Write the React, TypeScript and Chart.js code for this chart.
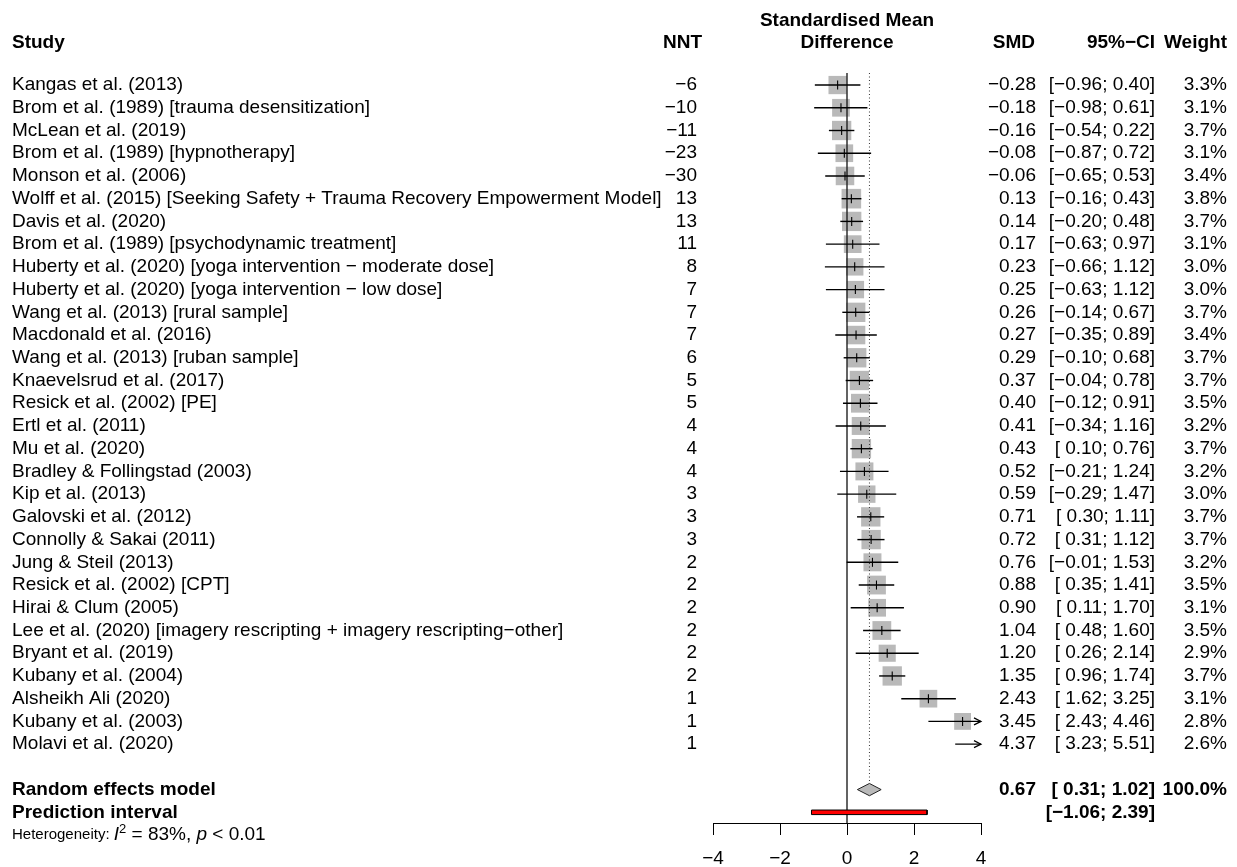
import React, { useEffect, useRef } from "react";
import { Chart, registerables } from "chart.js";

Chart.register(...registerables);

// ---------------- data ----------------
const studies = [
  "Kangas et al. (2013)",
  "Brom et al. (1989) [trauma desensitization]",
  "McLean et al. (2019)",
  "Brom et al. (1989) [hypnotherapy]",
  "Monson et al. (2006)",
  "Wolff et al. (2015) [Seeking Safety + Trauma Recovery Empowerment Model]",
  "Davis et al. (2020)",
  "Brom et al. (1989) [psychodynamic treatment]",
  "Huberty et al. (2020) [yoga intervention \u2212 moderate dose]",
  "Huberty et al. (2020) [yoga intervention \u2212 low dose]",
  "Wang et al. (2013) [rural sample]",
  "Macdonald et al. (2016)",
  "Wang et al. (2013) [ruban sample]",
  "Knaevelsrud et al. (2017)",
  "Resick et al. (2002) [PE]",
  "Ertl et al. (2011)",
  "Mu et al. (2020)",
  "Bradley & Follingstad (2003)",
  "Kip et al. (2013)",
  "Galovski et al. (2012)",
  "Connolly & Sakai (2011)",
  "Jung & Steil (2013)",
  "Resick et al. (2002) [CPT]",
  "Hirai & Clum (2005)",
  "Lee et al. (2020) [imagery rescripting + imagery rescripting\u2212other]",
  "Bryant et al. (2019)",
  "Kubany et al. (2004)",
  "Alsheikh Ali (2020)",
  "Kubany et al. (2003)",
  "Molavi et al. (2020)",
];

const nnt = [-6, -10, -11, -23, -30, 13, 13, 11, 8, 7, 7, 7, 6, 5, 5, 4, 4, 4, 3, 3, 3, 2, 2, 2, 2, 2, 2, 1, 1, 1];

const smd = [
  -0.28, -0.18, -0.16, -0.08, -0.06, 0.13, 0.14, 0.17, 0.23, 0.25, 0.26, 0.27, 0.29, 0.37, 0.4,
  0.41, 0.43, 0.52, 0.59, 0.71, 0.72, 0.76, 0.88, 0.9, 1.04, 1.2, 1.35, 2.43, 3.45, 4.37,
];

const ciLower = [
  -0.96, -0.98, -0.54, -0.87, -0.65, -0.16, -0.2, -0.63, -0.66, -0.63, -0.14, -0.35, -0.1, -0.04, -0.12,
  -0.34, 0.1, -0.21, -0.29, 0.3, 0.31, -0.01, 0.35, 0.11, 0.48, 0.26, 0.96, 1.62, 2.43, 3.23,
];

const ciUpper = [
  0.4, 0.61, 0.22, 0.72, 0.53, 0.43, 0.48, 0.97, 1.12, 1.12, 0.67, 0.89, 0.68, 0.78, 0.91,
  1.16, 0.76, 1.24, 1.47, 1.11, 1.12, 1.53, 1.41, 1.7, 1.6, 2.14, 1.74, 3.25, 4.46, 5.51,
];

const weights = [
  3.3, 3.1, 3.7, 3.1, 3.4, 3.8, 3.7, 3.1, 3.0, 3.0, 3.7, 3.4, 3.7, 3.7, 3.5,
  3.2, 3.7, 3.2, 3.0, 3.7, 3.7, 3.2, 3.5, 3.1, 3.5, 2.9, 3.7, 3.1, 2.8, 2.6,
];

const pooled = { label: "Random effects model", smd: 0.67, lower: 0.31, upper: 1.02, weight: "100.0%" };
const prediction = { label: "Prediction interval", lower: -1.06, upper: 2.39 };
const heterogeneity = { i2: "83%", p: "< 0.01" };

const xTicks = [-4, -2, 0, 2, 4];
const X_MIN = -4;
const X_MAX = 4;

// ---------------- layout / style ----------------
const FONT = '"Liberation Sans", Arial, Helvetica, sans-serif';
const CANVAS_W = 1237;
const CANVAS_H = 900;
const ROW_POOLED = studies.length + 1;
const ROW_PRED = studies.length + 2;
const ROW_HET = studies.length + 3;
const Y_MIN = -0.53;
const Y_MAX = 32.47;
const SQUARE_GREY = "#b9b9b9";

const minus = (s: string) => s.replace(/-/g, "\u2212");
const f2 = (v: number) => minus(v.toFixed(2));
const ciText = (lo: number, hi: number) => `[${lo >= 0 ? " " : ""}${f2(lo)}; ${f2(hi)}]`;

const textPlugin = {
  id: "forestText",
  afterDatasetsDraw(chart: any) {
    const { ctx, scales } = chart;
    const x = scales.x;
    const y = scales.y;
    ctx.save();
    // arrows for intervals running past the axis
    ctx.strokeStyle = "#000";
    ctx.lineWidth = 1.2;
    ciUpper.forEach((hi, i) => {
      if (hi > X_MAX) {
        const tip = x.getPixelForValue(X_MAX);
        const yy = y.getPixelForValue(i);
        ctx.beginPath();
        ctx.moveTo(tip - 7, yy - 3.5);
        ctx.lineTo(tip, yy);
        ctx.lineTo(tip - 7, yy + 3.5);
        ctx.stroke();
      }
    });
    ctx.restore();
  },
  afterDraw(chart: any) {
    const { ctx, scales } = chart;
    const x = scales.x;
    const y = scales.y;
    const reg = `19px ${FONT}`;
    const bold = `bold 19px ${FONT}`;
    const STUDY_X = 12;
    const NNT_R = 697;
    const SMD_R = 1036;
    const CI_R = 1155;
    const W_R = 1227;
    ctx.save();
    ctx.fillStyle = "#000";
    ctx.textBaseline = "middle";

    const put = (t: string, px: number, py: number, align: CanvasTextAlign, font: string) => {
      ctx.font = font;
      ctx.textAlign = align;
      ctx.fillText(t, px, py);
    };

    // headers
    const hy = y.getPixelForValue(-1.86);
    const hy0 = y.getPixelForValue(-2.84);
    put("Study", STUDY_X, hy, "left", bold);
    put("NNT", 702, hy, "right", bold);
    const cx = (x.left + x.right) / 2;
    put("Standardised Mean", cx, hy0, "center", bold);
    put("Difference", cx, hy, "center", bold);
    put("SMD", 1035, hy, "right", bold);
    put("95%\u2212CI", 1155, hy, "right", bold);
    put("Weight", W_R, hy, "right", bold);

    studies.forEach((s, i) => {
      const py = y.getPixelForValue(i);
      put(s, STUDY_X, py, "left", reg);
      put(minus(String(nnt[i])), NNT_R, py, "right", reg);
      put(f2(smd[i]), SMD_R, py, "right", reg);
      put(ciText(ciLower[i], ciUpper[i]), CI_R, py, "right", reg);
      put(weights[i].toFixed(1) + "%", W_R, py, "right", reg);
    });

    const py1 = y.getPixelForValue(ROW_POOLED);
    put(pooled.label, STUDY_X, py1, "left", bold);
    put(f2(pooled.smd), SMD_R, py1, "right", bold);
    put(ciText(pooled.lower, pooled.upper), CI_R, py1, "right", bold);
    put(pooled.weight, W_R, py1, "right", bold);

    const py2 = y.getPixelForValue(ROW_PRED);
    put(prediction.label, STUDY_X, py2, "left", bold);
    put(ciText(prediction.lower, prediction.upper), CI_R, py2, "right", bold);

    // heterogeneity line: label small, math part at regular size
    const py3 = y.getPixelForValue(ROW_HET);
    const small = `15px ${FONT}`;
    const mathR = `19px ${FONT}`;
    const mathIt = `italic 19px ${FONT}`;
    ctx.textAlign = "left";
    let cxp = STUDY_X;
    const seg = (t: string, font: string, dy = 0) => {
      ctx.font = font;
      ctx.fillText(t, cxp, py3 + dy);
      cxp += ctx.measureText(t).width;
    };
    seg("Heterogeneity: ", small);
    seg("I", mathIt);
    seg("2", `13px ${FONT}`, -6);
    seg(" = " + heterogeneity.i2 + ", ", mathR);
    seg("p", mathIt);
    seg(" " + heterogeneity.p, mathR);

    ctx.restore();
  },
};

export default function App() {
  const ref = useRef<HTMLCanvasElement | null>(null);

  useEffect(() => {
    if (!ref.current) return;

    const ciDatasets = studies.map((s, i) => ({
      label: "CI " + s,
      data: [
        { x: ciLower[i], y: i },
        { x: ciUpper[i], y: i },
      ],
      showLine: true,
      borderColor: "#000",
      borderWidth: 1.4,
      pointRadius: 0,
      order: 3,
    }));

    const chart = new Chart(ref.current, {
      type: "scatter",
      data: {
        datasets: [
          {
            label: "squares",
            data: smd.map((v, i) => ({ x: v, y: i })),
            pointStyle: "rect",
            pointRadius: weights.map((w) => 7.107 * Math.sqrt(w)),
            backgroundColor: SQUARE_GREY,
            borderWidth: 0,
            borderColor: SQUARE_GREY,
            clip: 0,
            order: 6,
          } as any,
          {
            label: "no effect",
            data: [
              { x: 0, y: Y_MIN },
              { x: 0, y: Y_MAX },
            ],
            showLine: true,
            borderColor: "#222",
            borderWidth: 1.4,
            pointRadius: 0,
            order: 5,
          },
          {
            label: "pooled line",
            data: [
              { x: pooled.smd, y: Y_MIN },
              { x: pooled.smd, y: ROW_POOLED - 0.27 },
            ],
            showLine: true,
            borderColor: "#333",
            borderWidth: 1,
            borderDash: [1, 2.5],
            pointRadius: 0,
            order: 5,
          },
          ...ciDatasets,
          {
            label: "estimate ticks",
            data: smd.map((v, i) => ({ x: v, y: i })),
            pointStyle: "line",
            rotation: 90,
            pointRadius: 4.5,
            borderColor: "#000",
            borderWidth: 1.1,
            clip: 0,
            order: 2,
          } as any,
          {
            label: "diamond",
            data: [
              { x: pooled.lower, y: ROW_POOLED },
              { x: pooled.smd, y: ROW_POOLED - 0.27 },
              { x: pooled.upper, y: ROW_POOLED },
              { x: pooled.smd, y: ROW_POOLED + 0.27 },
              { x: pooled.lower, y: ROW_POOLED },
            ],
            showLine: true,
            fill: "shape",
            backgroundColor: SQUARE_GREY,
            borderColor: "#222",
            borderWidth: 1,
            pointRadius: 0,
            order: 1,
          } as any,
          {
            label: "prediction",
            data: [
              { x: prediction.lower, y: ROW_PRED - 0.1 },
              { x: prediction.upper, y: ROW_PRED - 0.1 },
              { x: prediction.upper, y: ROW_PRED + 0.1 },
              { x: prediction.lower, y: ROW_PRED + 0.1 },
              { x: prediction.lower, y: ROW_PRED - 0.1 },
            ],
            showLine: true,
            fill: "shape",
            backgroundColor: "#ff0000",
            borderColor: "#000",
            borderWidth: 1,
            pointRadius: 0,
            order: 1,
          } as any,
        ],
      },
      options: {
        responsive: false,
        animation: false,
        events: [],
        layout: { padding: { left: 713, right: 256, top: 73, bottom: CANVAS_H - 823 - 60 } },
        plugins: {
          legend: { display: false },
          tooltip: { enabled: false },
        },
        scales: {
          x: {
            type: "linear",
            min: X_MIN,
            max: X_MAX,
            position: "bottom",
            afterBuildTicks: (scale: any) => {
              scale.ticks = xTicks.map((v) => ({ value: v }));
            },
            afterFit: (scale: any) => {
              scale.height = 60;
            },
            ticks: {
              color: "#000",
              font: { family: FONT, size: 19 },
              padding: 12,
              maxRotation: 0,
              callback: (v: any) => minus(String(v)),
            },
            grid: {
              display: true,
              drawOnChartArea: false,
              drawTicks: true,
              tickLength: 12,
              color: "#000",
              lineWidth: 1,
            },
            border: { display: true, color: "#000", width: 1 },
          },
          y: {
            type: "linear",
            min: Y_MIN,
            max: Y_MAX,
            reverse: true,
            display: false,
          },
        },
      } as any,
      plugins: [textPlugin],
    });

    return () => chart.destroy();
  }, []);

  return (
    <div
      style={{
        position: "fixed",
        left: 0,
        top: 0,
        width: CANVAS_W,
        height: 867,
        overflow: "hidden",
        background: "#fff",
      }}
    >
      <canvas ref={ref} width={CANVAS_W} height={CANVAS_H} style={{ display: "block" }} />
    </div>
  );
}
